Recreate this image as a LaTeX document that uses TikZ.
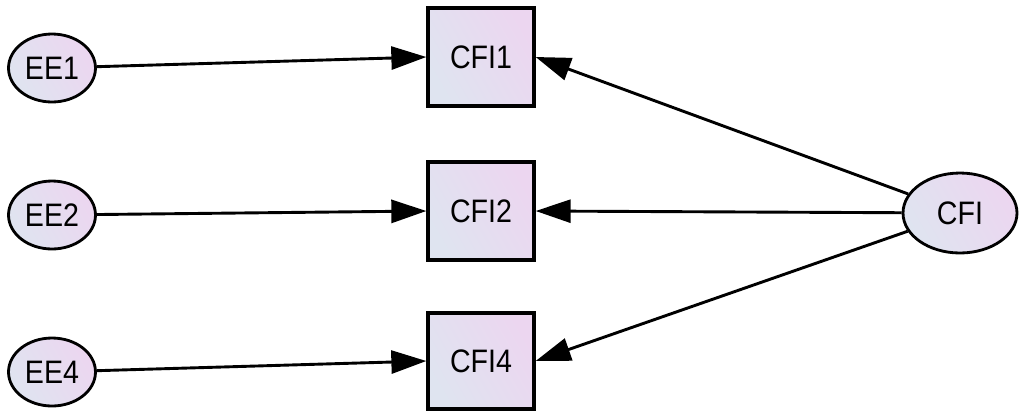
\documentclass[tikz,border=0pt]{standalone}
\usepackage{fontspec}
\setmainfont{Liberation Sans}
\usetikzlibrary{arrows.meta,shapes.geometric}
\definecolor{fillA}{HTML}{DFE4F0}
\definecolor{fillB}{HTML}{ECD6F0}
\newcommand{\lbl}[1]{\scalebox{0.88}[1]{#1}}
\tikzset{
  shadedfill/.style={left color=fillA, right color=fillB, shading angle=120},
  latent/.style={ellipse, draw, line width=1.6pt, shadedfill, inner sep=0pt,
    font=\fontsize{18.5}{20}\selectfont},
  observed/.style={rectangle, draw, line width=1.9pt, shadedfill, inner sep=0pt,
    font=\fontsize{18.5}{20}\selectfont},
  regpath/.style={line width=1.65pt, -{Triangle[length=0.7cm, width=0.46cm]}},
}
\begin{document}
\begin{tikzpicture}[x=0.02cm, y=-0.02cm]
  \useasboundingbox (0,0) rectangle (1020,410);
  % exogenous error terms
  \node[latent, minimum width=1.74cm, minimum height=1.36cm] (ee1) at (52,68) {\lbl{EE1}};
  \node[latent, minimum width=1.74cm, minimum height=1.36cm] (ee2) at (52,215) {\lbl{EE2}};
  \node[latent, minimum width=1.74cm, minimum height=1.36cm] (ee4) at (52,372) {\lbl{EE4}};
  % indicators
  \node[observed, minimum width=2.12cm, minimum height=1.96cm] (cfi1) at (481,57) {\lbl{CFI1}};
  \node[observed, minimum width=2.12cm, minimum height=1.96cm] (cfi2) at (481,211) {\lbl{CFI2}};
  \node[observed, minimum width=2.12cm, minimum height=1.92cm] (cfi4) at (481,361) {\lbl{CFI4}};
  % latent factor
  \node[latent, minimum width=2.28cm, minimum height=1.6cm] (cfi) at (960,213) {\lbl{CFI}};
  % paths
  \draw[regpath] (ee1) -- (cfi1.west);
  \draw[regpath] (ee2) -- (cfi2.west);
  \draw[regpath] (ee4) -- (cfi4.west);
  \draw[regpath] (cfi) -- (cfi1.east);
  \draw[regpath] (cfi) -- (cfi2.east);
  \draw[regpath] (cfi) -- (cfi4.east);
\end{tikzpicture}
\end{document}
